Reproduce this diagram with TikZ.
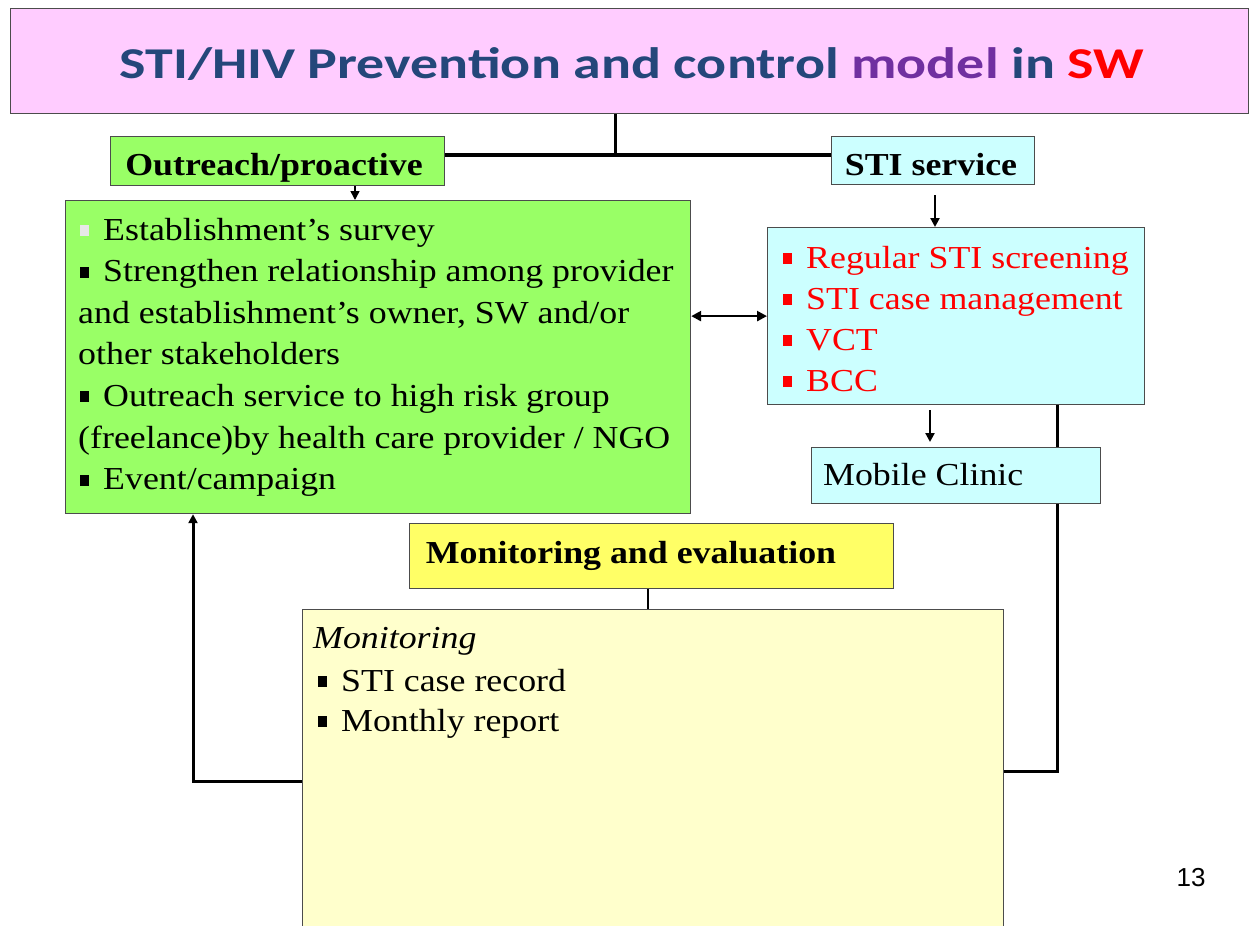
\documentclass[tikz,border=0pt]{standalone}
\usepackage{fontspec}
\setmainfont[FakeStretch=1.12]{Liberation Serif}
\newfontfamily\titlefont[FakeStretch=1.27]{Carlito}
\newfontfamily\numfont{Liberation Sans}
\usetikzlibrary{arrows.meta,backgrounds}
\definecolor{pinkbg}{HTML}{FFCCFF}
\definecolor{greenbg}{HTML}{99FF66}
\definecolor{cyanbg}{HTML}{CCFFFF}
\definecolor{yellowbg}{HTML}{FFFF66}
\definecolor{paleyellow}{HTML}{FFFFCC}
\definecolor{titleblue}{HTML}{24477A}
\definecolor{titlepurple}{HTML}{7030A0}
\definecolor{bulgray}{HTML}{E8E8E8}
\newcommand\sqbul[1]{\textcolor{#1}{\rule[4pt]{9pt}{11pt}}\hspace{14pt}}
\tikzset{
  panel/.style={draw=black!70, line width=1.2pt, rectangle, anchor=north west, inner sep=0pt},
  txt/.style={anchor=base west, inner sep=0pt, font=\fontsize{32}{41}\selectfont},
  btxt/.style={anchor=base, inner sep=0pt, font=\fontsize{32}{41}\selectfont\bfseries},
  conn/.style={line width=3pt, black},
  tip/.style={-{Triangle[length=9pt,width=9pt]}},
}
\begin{document}
\begin{tikzpicture}[x=1pt,y=-1pt]
\useasboundingbox (0,0) rectangle (1259,926);
% boxes
\node[panel, fill=pinkbg, minimum width=1238pt, minimum height=105pt] (title) at (10,8) {};
\node[panel, fill=greenbg, minimum width=334pt, minimum height=49pt] (outreach) at (110,136) {};
\node[panel, fill=cyanbg, minimum width=203pt, minimum height=48pt] (stisvc) at (831,136) {};
\node[panel, fill=greenbg, minimum width=625pt, minimum height=313pt] (green) at (65,200) {};
\node[panel, fill=cyanbg, minimum width=377pt, minimum height=177pt] (cyan) at (767,227) {};
\node[panel, fill=cyanbg, minimum width=289pt, minimum height=56pt] (mobile) at (811,447) {};
\node[panel, fill=yellowbg, minimum width=484pt, minimum height=65pt] (me) at (409,523) {};
\node[panel, fill=paleyellow, minimum width=701pt, minimum height=340pt] (big) at (302,609) {};
% texts
\node[anchor=base, inner sep=0pt, font=\titlefont\fontsize{44}{50}\selectfont\bfseries] (titletext) at (632,78)
  {\textcolor{titleblue}{STI/HIV Prevention and control} \textcolor{titlepurple}{model} \textcolor{titleblue}{in} \textcolor{red}{SW}};
\node[btxt] (outreachtext) at (274,175) {Outreach/proactive};
\node[btxt] (stisvctext) at (931,175) {STI service};
\node[btxt] (metext) at (631,563) {Monitoring and evaluation};
\node[txt] (g1) at (80,240) {\sqbul{bulgray}Establishment's survey};
\node[txt] (g2) at (80,281.6) {\sqbul{black}Strengthen relationship among provider};
\node[txt] (g3) at (78,323.2) {and establishment's owner, SW and/or};
\node[txt] (g4) at (78,364.8) {other stakeholders};
\node[txt] (g5) at (80,406.4) {\sqbul{black}Outreach service to high risk group};
\node[txt] (g6) at (78,448) {(freelance)by health care provider / NGO};
\node[txt] (g7) at (80,489.6) {\sqbul{black}Event/campaign};
\node[txt, text=red] (c1) at (783,268) {\sqbul{red}Regular STI screening};
\node[txt, text=red] (c2) at (783,309) {\sqbul{red}STI case management};
\node[txt, text=red] (c3) at (783,350) {\sqbul{red}VCT};
\node[txt, text=red] (c4) at (783,391) {\sqbul{red}BCC};
\node[txt] (mobiletext) at (823,485) {Mobile Clinic};
\node[txt] (m1) at (313,648) {\itshape Monitoring};
\node[txt] (m2) at (318,691) {\sqbul{black}STI case record};
\node[txt] (m3) at (318,731) {\sqbul{black}Monthly report};
\node[anchor=center, inner sep=0pt, font=\numfont\fontsize{26}{30}\selectfont] (pagenum) at (1191,878) {13};
% junction coordinates
\coordinate (j) at (615,155);
\coordinate (xa) at (355,0);
\coordinate (xb) at (935,0);
\coordinate (xc) at (930,0);
\coordinate (xd) at (1057,0);
\coordinate (xe) at (648,0);
\coordinate (xf) at (193,0);
\coordinate (ylow) at (0,771);
\coordinate (yleft) at (0,781);
% connectors
\begin{scope}[on background layer]
\draw[conn] (title.south -| j) -- (j);
\draw[conn, line width=3.5pt] (outreach.east |- j) -- (stisvc.west |- j);
\draw[line width=1.5pt, tip] (outreach.south -| xa) -- (green.north -| xa);
\draw[line width=2.5pt, tip, shorten <=10pt] (stisvc.south -| xb) -- (cyan.north -| xb);
\draw[line width=2.5pt, {Triangle[length=10pt,width=10pt]}-{Triangle[length=10pt,width=10pt]}] (green.east |- cyan.west) -- (cyan.west);
\draw[line width=2.5pt, tip, shorten <=5pt, shorten >=5pt] (cyan.south -| xc) -- (mobile.north -| xc);
\draw[conn] (cyan.south -| xd) |- (big.east |- ylow);
\draw[line width=1.5pt] (me.south -| xe) -- (big.north -| xe);
\draw[conn, tip] (big.west |- yleft) -| (green.south -| xf);
\end{scope}
\end{tikzpicture}
\end{document}
